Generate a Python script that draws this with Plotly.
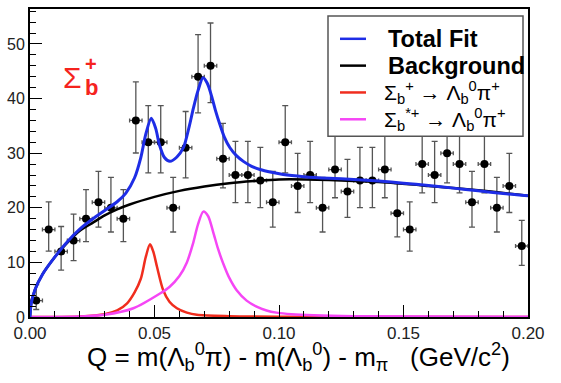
import numpy as np
import plotly.graph_objects as go

# ---- data ----
bin_centers = [0.0025, 0.0075, 0.0125, 0.0175, 0.0225, 0.0275, 0.0325, 0.0375, 0.0425, 0.0475,
               0.0525, 0.0575, 0.0625, 0.0675, 0.0725, 0.0775, 0.0825, 0.0875, 0.0925, 0.0975,
               0.1025, 0.1075, 0.1125, 0.1175, 0.1225, 0.1275, 0.1325, 0.1375, 0.1425, 0.1475,
               0.1525, 0.1575, 0.1625, 0.1675, 0.1725, 0.1775, 0.1825, 0.1875, 0.1925, 0.1975]
counts = [3, 16, 12, 14, 18, 21, 20, 18, 36, 32,
          32, 20, 31, 44, 46, 29, 26, 26, 25, 21,
          32, 24, 26, 20, 27, 23, 25, 25, 27, 19,
          16, 28, 26, 30, 28, 21, 28, 20, 24, 13]
bin_half_width = 0.0025

bkg_q = [0.0, 0.0005, 0.002, 0.005, 0.01, 0.015, 0.02, 0.025, 0.03, 0.035, 0.04, 0.05, 0.06,
         0.07, 0.08, 0.09, 0.10, 0.12, 0.14, 0.16, 0.18, 0.20]
bkg_y = [0.0, 2.5, 5.0, 7.8, 11.0, 13.6, 15.8, 17.2, 18.6, 19.7, 20.6, 22.0, 23.1,
         23.9, 24.5, 24.9, 25.2, 25.1, 24.7, 24.0, 23.2, 22.2]

sig1_q = [0.0, 0.02, 0.03, 0.035, 0.039, 0.042, 0.0445, 0.0465, 0.0482, 0.0495, 0.051, 0.0535,
          0.056, 0.059, 0.063, 0.067, 0.08, 0.10, 0.20]
sig1_y = [0.0, 0.1, 0.5, 1.2, 2.5, 4.5, 7.0, 11.0, 13.3, 12.0, 9.2, 4.9,
          2.8, 1.6, 0.8, 0.4, 0.15, 0.05, 0.0]

sig2_q = [0.0, 0.02, 0.03, 0.0415, 0.0522, 0.056, 0.060, 0.063, 0.0655, 0.0675, 0.0696, 0.0715,
          0.0736, 0.0755, 0.0776, 0.080, 0.083, 0.087, 0.091, 0.095, 0.099, 0.105, 0.114, 0.13, 0.20]
sig2_y = [0.0, 0.1, 0.4, 1.6, 4.3, 5.5, 7.5, 10.0, 13.5, 17.0, 19.3, 18.5,
          15.5, 12.5, 9.8, 7.2, 4.9, 3.0, 1.9, 1.2, 0.8, 0.5, 0.3, 0.15, 0.05]

tot_q = [0.0, 0.0005, 0.002, 0.005, 0.01, 0.015, 0.02, 0.025, 0.03, 0.035, 0.0385, 0.042, 0.0445,
         0.0465, 0.0487, 0.0505, 0.052, 0.054, 0.0562, 0.059, 0.0616, 0.064, 0.0656, 0.0675, 0.0695,
         0.0712, 0.0729, 0.0745, 0.0763, 0.078, 0.0803, 0.083, 0.0857, 0.089, 0.0924, 0.097, 0.1017,
         0.11, 0.12, 0.13, 0.14, 0.15, 0.16, 0.17, 0.18, 0.19, 0.20]
tot_y = [0.0, 2.5, 5.0, 7.8, 11.0, 13.8, 16.1, 17.9, 19.5, 21.1, 22.7, 25.5, 29.2,
         33.5, 36.4, 34.5, 31.5, 29.2, 28.5, 29.3, 31.0, 35.0, 38.2, 41.5, 43.8,
         42.8, 40.5, 37.8, 35.2, 33.0, 31.0, 29.5, 28.5, 27.6, 27.0, 26.5, 26.1,
         25.7, 25.4, 25.2, 24.9, 24.5, 24.1, 23.6, 23.1, 22.6, 22.2]

x_tickvals = [0.0, 0.05, 0.10, 0.15, 0.20]
x_ticktext = ["0.00", "0.05", "0.10", "0.15", "0.20"]
y_tickvals = [0, 10, 20, 30, 40, 50]
y_ticktext = ["0", "10", "20", "30", "40", "50"]

legend_labels = ["<b>Total Fit</b>", "<b>Background</b>",
                 "Σ<sub>b</sub><sup>+</sup> → Λ<sub>b</sub><sup>0</sup>π<sup>+</sup>",
                 "Σ<sub>b</sub><sup>*+</sup> → Λ<sub>b</sub><sup>0</sup>π<sup>+</sup>"]

# Poisson (Gehrels) asymmetric errors
n = np.array(counts, dtype=float)
err_up = np.sqrt(n + 0.75) + 1.0
err_lo = n - n * (1 - 1 / (9 * n) - 1 / (3 * np.sqrt(n))) ** 3

W, H = 561, 383
L, R, T, B = 30, 33, 7, 66
PW, PH = W - L - R, H - T - B


def px(xp):
    return (xp - L) / PW


def py(yp):
    return (H - B - yp) / PH


FONT = "Liberation Sans, Arial, Helvetica, sans-serif"
BLUE = "rgb(30,45,230)"
RED = "rgb(240,45,30)"
MAG = "rgb(245,70,245)"

fig = go.Figure()

fig.add_trace(go.Scatter(
    x=bin_centers, y=counts, mode="markers", showlegend=False,
    marker=dict(color="black", size=8),
    error_y=dict(type="data", symmetric=False, array=err_up, arrayminus=err_lo,
                 color="#555555", thickness=1.3, width=3),
    error_x=dict(type="constant", value=bin_half_width, color="#555555", thickness=1.3, width=2),
))

fig.add_trace(go.Scatter(x=bkg_q, y=bkg_y, mode="lines", showlegend=False,
                         line=dict(color="black", width=2.5, shape="spline", smoothing=0.8)))
fig.add_trace(go.Scatter(x=sig1_q, y=sig1_y, mode="lines", showlegend=False,
                         line=dict(color=RED, width=2.5, shape="spline", smoothing=0.8)))
fig.add_trace(go.Scatter(x=sig2_q, y=sig2_y, mode="lines", showlegend=False,
                         line=dict(color=MAG, width=2.5, shape="spline", smoothing=0.8)))
fig.add_trace(go.Scatter(x=tot_q, y=tot_y, mode="lines", showlegend=False,
                         line=dict(color=BLUE, width=3, shape="spline", smoothing=0.8)))

# legend box (drawn by hand to match the ROOT legend)
shapes = [dict(type="rect", xref="paper", yref="paper", layer="above",
               x0=px(328), x1=px(523), y0=py(135), y1=py(14),
               fillcolor="white", line=dict(color="#555555", width=1.5))]
annotations = []
row_y = [37, 64, 91, 118]
row_col = [BLUE, "black", RED, MAG]
row_size = [23.5, 23.5, 21, 21]
row_x = [386, 386, 382, 382]
for yy, cc, lab, sz, xx in zip(row_y, row_col, legend_labels, row_size, row_x):
    shapes.append(dict(type="line", xref="paper", yref="paper", layer="above",
                       x0=px(340), x1=px(366), y0=py(yy), y1=py(yy),
                       line=dict(color=cc, width=2.5)))
    annotations.append(dict(text=lab, xref="paper", yref="paper", x=px(xx), y=py(yy),
                            xanchor="left", yanchor="middle", showarrow=False,
                            font=dict(size=sz, color="black", family=FONT)))

annotations += [
    dict(text="Σ", xref="paper", yref="paper", x=px(72), y=py(76), xanchor="center", yanchor="middle",
         showarrow=False, font=dict(size=30, color="rgb(245,35,30)", family=FONT)),
    dict(text="<b>+</b>", xref="paper", yref="paper", x=px(91), y=py(62), xanchor="center", yanchor="middle",
         showarrow=False, font=dict(size=20, color="rgb(245,35,30)", family=FONT)),
    dict(text="<b>b</b>", xref="paper", yref="paper", x=px(91), y=py(86), xanchor="center", yanchor="middle",
         showarrow=False, font=dict(size=22, color="rgb(245,35,30)", family=FONT)),
    dict(text="Q = m(Λ<sub>b</sub><sup>0</sup>π) - m(Λ<sub>b</sub><sup>0</sup>) - m<sub>π</sub>&nbsp;&nbsp;&nbsp;(GeV/c<sup>2</sup>)",
         xref="paper", yref="paper", x=px(298), y=py(357), xanchor="center", yanchor="middle",
         showarrow=False, font=dict(size=26, color="black", family=FONT)),
]

fig.update_layout(
    width=W, height=H,
    margin=dict(l=L, r=R, t=T, b=B),
    paper_bgcolor="white", plot_bgcolor="white",
    font=dict(family=FONT, color="black"),
    showlegend=False,
    xaxis=dict(range=[0, 0.2], tickmode="array", tickvals=x_tickvals, ticktext=x_ticktext,
               ticks="inside", ticklen=12, tickwidth=1.2, tickcolor="black",
               minor=dict(dtick=0.01, ticks="inside", ticklen=6, tickcolor="black", tickwidth=1),
               showline=True, linecolor="black", linewidth=2, mirror=True,
               showgrid=False, zeroline=False,
               tickfont=dict(size=17, color="#222222")),
    yaxis=dict(range=[0, 56.4], tickmode="array", tickvals=y_tickvals, ticktext=y_ticktext,
               ticks="inside", ticklen=12, tickwidth=1.2, tickcolor="black",
               minor=dict(dtick=2, ticks="inside", ticklen=6, tickcolor="black", tickwidth=1),
               showline=True, linecolor="black", linewidth=2, mirror=True,
               showgrid=False, zeroline=False,
               tickfont=dict(size=16, color="#222222")),
    shapes=shapes,
    annotations=annotations,
)

fig.write_html("out.html")
